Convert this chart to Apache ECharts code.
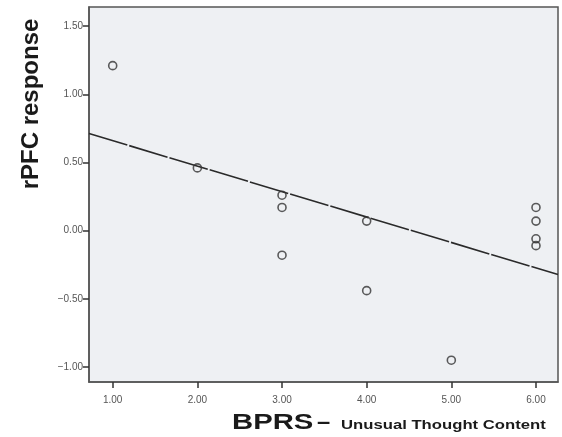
<!DOCTYPE html>
<html>
<head>
<meta charset="utf-8">
<script src="https://cdn.jsdelivr.net/npm/echarts@6/dist/echarts.min.js"></script>
<style>
html,body{margin:0;padding:0;background:#fff;}
#c{width:562px;height:437px;}
</style>
</head>
<body>
<div id="c"></div>
<script>
// Data
const bprsScores = [1, 2, 3, 3, 3, 4, 4, 5, 6, 6, 6, 6];
const rpfcResponse = [1.21, 0.46, 0.26, 0.17, -0.18, 0.07, -0.44, -0.95, 0.17, 0.07, -0.06, -0.11];
const fitLineX = [0.72, 6.26];
const fitLineY = [0.712, -0.322];
const xTicks = [1, 2, 3, 4, 5, 6];
const yTicks = [-1.0, -0.5, 0.0, 0.5, 1.0, 1.5];

const points = bprsScores.map((x, i) => [x, rpfcResponse[i]]);
const fitLine = fitLineX.map((x, i) => [x, fitLineY[i]]);

const chart = echarts.init(document.getElementById('c'), null, {renderer: 'canvas'});
chart.setOption({
  animation: false,
  backgroundColor: '#ffffff',
  grid: {
    left: 89, top: 7, right: 4, bottom: 55,
    show: true,
    backgroundColor: '#eef0f3',
    borderColor: '#555555',
    borderWidth: 1.5
  },
  xAxis: {
    type: 'value',
    position: 'bottom',
    min: 0.72, max: 6.26,
    splitLine: {show: false},
    axisLine: {show: true, onZero: false, lineStyle: {color: '#555', width: 1.5}},
    axisTick: {show: true, inside: false, customValues: xTicks, length: 6, lineStyle: {color: '#333', width: 1.5}},
    axisLabel: {customValues: xTicks, formatter: v => v.toFixed(2), color: '#555', fontSize: 10, fontFamily: 'Liberation Sans, Arial', margin: 13}
  },
  yAxis: {
    type: 'value',
    position: 'left',
    min: -1.11, max: 1.64,
    splitLine: {show: false},
    axisLine: {show: true, onZero: false, lineStyle: {color: '#555', width: 1.5}},
    axisTick: {show: true, inside: false, customValues: yTicks, length: 6, lineStyle: {color: '#333', width: 1.5}},
    axisLabel: {customValues: yTicks, formatter: v => (v < 0 ? '\u2212' + Math.abs(v).toFixed(2) : v.toFixed(2)), color: '#555', fontSize: 10, fontFamily: 'Liberation Sans, Arial', margin: 6}
  },
  series: [
    {
      type: 'line',
      data: fitLine,
      symbol: 'none',
      lineStyle: {color: '#2a2a2a', width: 1.6, type: [40, 2]},
      z: 2
    },
    {
      type: 'scatter',
      data: points,
      symbol: 'circle',
      symbolSize: 8,
      itemStyle: {color: 'rgba(0,0,0,0)', borderColor: '#333', borderWidth: 1.6},
      z: 3
    }
  ],
  graphic: [
    {
      type: 'text',
      rotation: Math.PI / 2,
      x: 31, y: 104,
      style: {
        text: 'rPFC response',
        fill: '#1a1a1a',
        font: 'bold 24px "Liberation Sans", Arial, sans-serif',
        align: 'center',
        verticalAlign: 'middle'
      }
    },
    {
      type: 'text',
      x: 232, y: 434,
      scaleX: 1.33,
      style: {
        text: 'BPRS',
        fill: '#1a1a1a',
        font: 'bold 22px "Liberation Sans", Arial, sans-serif',
        align: 'left',
        verticalAlign: 'bottom'
      }
    },
    {
      type: 'text',
      x: 317, y: 434,
      scaleX: 1.08,
      style: {
        text: '\u2013',
        fill: '#1a1a1a',
        font: 'bold 22px "Liberation Sans", Arial, sans-serif',
        align: 'left',
        verticalAlign: 'bottom'
      }
    },
    {
      type: 'text',
      x: 341, y: 432,
      scaleX: 1.39,
      style: {
        text: 'Unusual Thought Content',
        fill: '#1a1a1a',
        font: 'bold 12px "Liberation Sans", Arial, sans-serif',
        align: 'left',
        verticalAlign: 'bottom'
      }
    }
  ]
});
</script>
</body>
</html>
